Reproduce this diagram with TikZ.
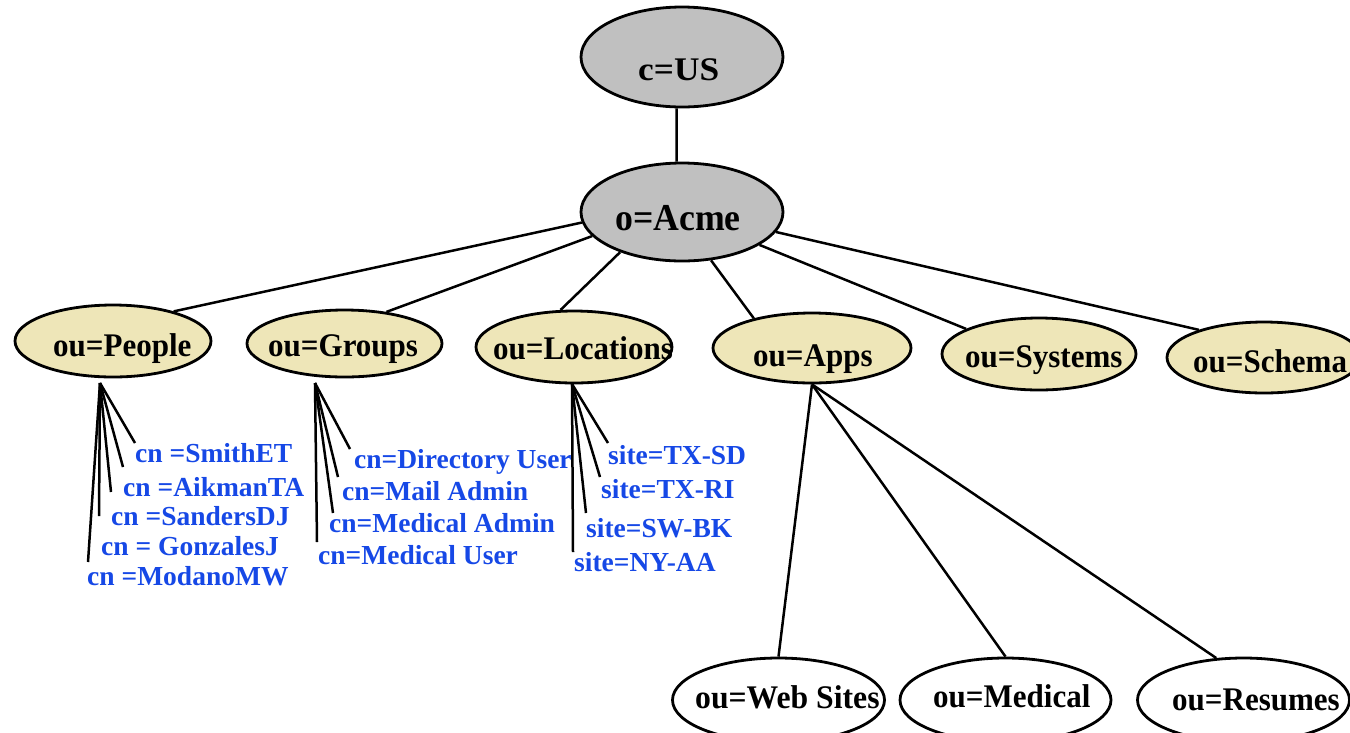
\documentclass[tikz,border=0pt]{standalone}
\usepackage{fontspec}
\setmainfont{Liberation Serif}
\usepackage{graphicx}
\usetikzlibrary{shapes.geometric}
\definecolor{grayfill}{RGB}{192,192,192}
\definecolor{tanfill}{RGB}{238,230,184}
\definecolor{lblblue}{RGB}{22,72,230}
\newcommand\hsq[2]{\scalebox{#1}[1]{#2}}
\begin{document}
\begin{tikzpicture}[x=1pt,y=-1pt,
  ell/.style={ellipse, draw=black, line width=2.8pt, inner sep=0pt},
  grayell/.style={ell, fill=grayfill},
  tanell/.style={ell, fill=tanfill},
  whiteell/.style={ell, fill=white},
  toptxt/.style={anchor=base west, inner sep=0pt},
  outxt/.style={anchor=base west, inner sep=0pt, font=\fontsize{33}{36}\selectfont\bfseries},
  lbl/.style={anchor=base west, inner sep=0pt, text=lblblue, font=\fontsize{27.5}{30}\selectfont\bfseries},
  conn/.style={draw=black, line width=2.5pt},
]
\useasboundingbox (0,0) rectangle (1350,732);

% ellipses
\node[grayell, minimum width=202pt, minimum height=100pt] (cus) at (682,57) {};
\node[grayell, minimum width=202pt, minimum height=98pt] (acme) at (682,212) {};
\node[tanell, minimum width=196pt, minimum height=72pt] (people) at (113,341) {};
\node[tanell, minimum width=195pt, minimum height=67pt] (groups) at (344.5,343.5) {};
\node[tanell, minimum width=196pt, minimum height=72pt] (locations) at (574,347) {};
\node[tanell, minimum width=198pt, minimum height=70pt] (apps) at (812,348) {};
\node[tanell, minimum width=194pt, minimum height=72pt] (systems) at (1039,354) {};
\node[tanell, minimum width=194pt, minimum height=71pt] (schema) at (1264,357.5) {};
\node[whiteell, minimum width=212pt, minimum height=84pt] (websites) at (778.5,700) {};
\node[whiteell, minimum width=211pt, minimum height=84pt] (medical) at (1005.5,700) {};
\node[whiteell, minimum width=212pt, minimum height=84pt] (resumes) at (1243.5,700) {};

% connectors between ellipses
\draw[conn] (cus.264) -- (acme.96);
\draw[conn] (acme.186) -- (people.26);
\draw[conn] (acme.195) -- (groups.37);
\draw[conn] (acme.213) -- (locations.110);
\draw[conn] (acme.301) -- (apps.153);
\draw[conn] (acme.-23) -- (systems.161);
\draw[conn] (acme.-12) -- (schema.157);
\draw[conn] (apps.south) -- (websites.north);
\draw[conn] (apps.south) -- (medical.north);
\draw[conn] (apps.south) -- (resumes.123);

% fan coordinates
\coordinate (proot) at (100,383);
\coordinate (p1) at (135,443);
\coordinate (p2) at (123,467);
\coordinate (p3) at (111,492);
\coordinate (p4) at (99,516);
\coordinate (p5) at (88,562);
\coordinate (groot) at (315,383);
\coordinate (g1) at (350,449);
\coordinate (g2) at (338,477);
\coordinate (g3) at (333,513);
\coordinate (g4) at (317,542);
\coordinate (lroot) at (572,384);
\coordinate (l1) at (608,443);
\coordinate (l2) at (600,477);
\coordinate (l3) at (586,513);
\coordinate (l4) at (573,552);
\foreach \e in {p1,p2,p3,p4,p5} \draw[conn] (proot) -- (\e);
\foreach \e in {g1,g2,g3,g4} \draw[conn] (groot) -- (\e);
\foreach \e in {l1,l2,l3,l4} \draw[conn] (lroot) -- (\e);

% texts in ellipses
\node[toptxt, font=\fontsize{33}{36}\selectfont\bfseries] (cus-t) at (638,80) {\hsq{1.07}{c=US}};
\node[toptxt, font=\fontsize{38}{40}\selectfont\bfseries] (acme-t) at (615,230) {\hsq{0.94}{o=Acme}};
\node[outxt] (people-t) at (53,356) {\hsq{0.94}{ou=People}};
\node[outxt] (groups-t) at (268,356) {\hsq{0.94}{ou=Groups}};
\node[outxt] (locations-t) at (493,359) {\hsq{0.94}{ou=Locations}};
\node[outxt] (apps-t) at (753,366) {\hsq{0.94}{ou=Apps}};
\node[outxt] (systems-t) at (965,367) {\hsq{0.94}{ou=Systems}};
\node[outxt] (schema-t) at (1193,372) {\hsq{0.94}{ou=Schema}};
\node[outxt] (websites-t) at (695,708) {\hsq{0.96}{ou=Web Sites}};
\node[outxt] (medical-t) at (933,707) {\hsq{0.94}{ou=Medical}};
\node[outxt] (resumes-t) at (1172,710) {\hsq{0.94}{ou=Resumes}};

% blue labels
\node[lbl] (smith) at (135,462) {cn =SmithET};
\node[lbl] (aikman) at (123,496) {cn =AikmanTA};
\node[lbl] (sanders) at (111,525) {cn =SandersDJ};
\node[lbl] (gonzales) at (101,555) {cn = GonzalesJ};
\node[lbl] (modano) at (87,585) {cn =ModanoMW};
\node[lbl] (diruser) at (354,468) {cn=Directory User};
\node[lbl] (mailadmin) at (342,500) {cn=Mail Admin};
\node[lbl] (medadmin) at (329,532) {cn=Medical Admin};
\node[lbl] (meduser) at (318,564) {cn=Medical User};
\node[lbl] (txsd) at (608,464) {site=TX-SD};
\node[lbl] (txri) at (601,498) {site=TX-RI};
\node[lbl] (swbk) at (586,537) {site=SW-BK};
\node[lbl] (nyaa) at (574,571) {site=NY-AA};
\end{tikzpicture}
\end{document}
